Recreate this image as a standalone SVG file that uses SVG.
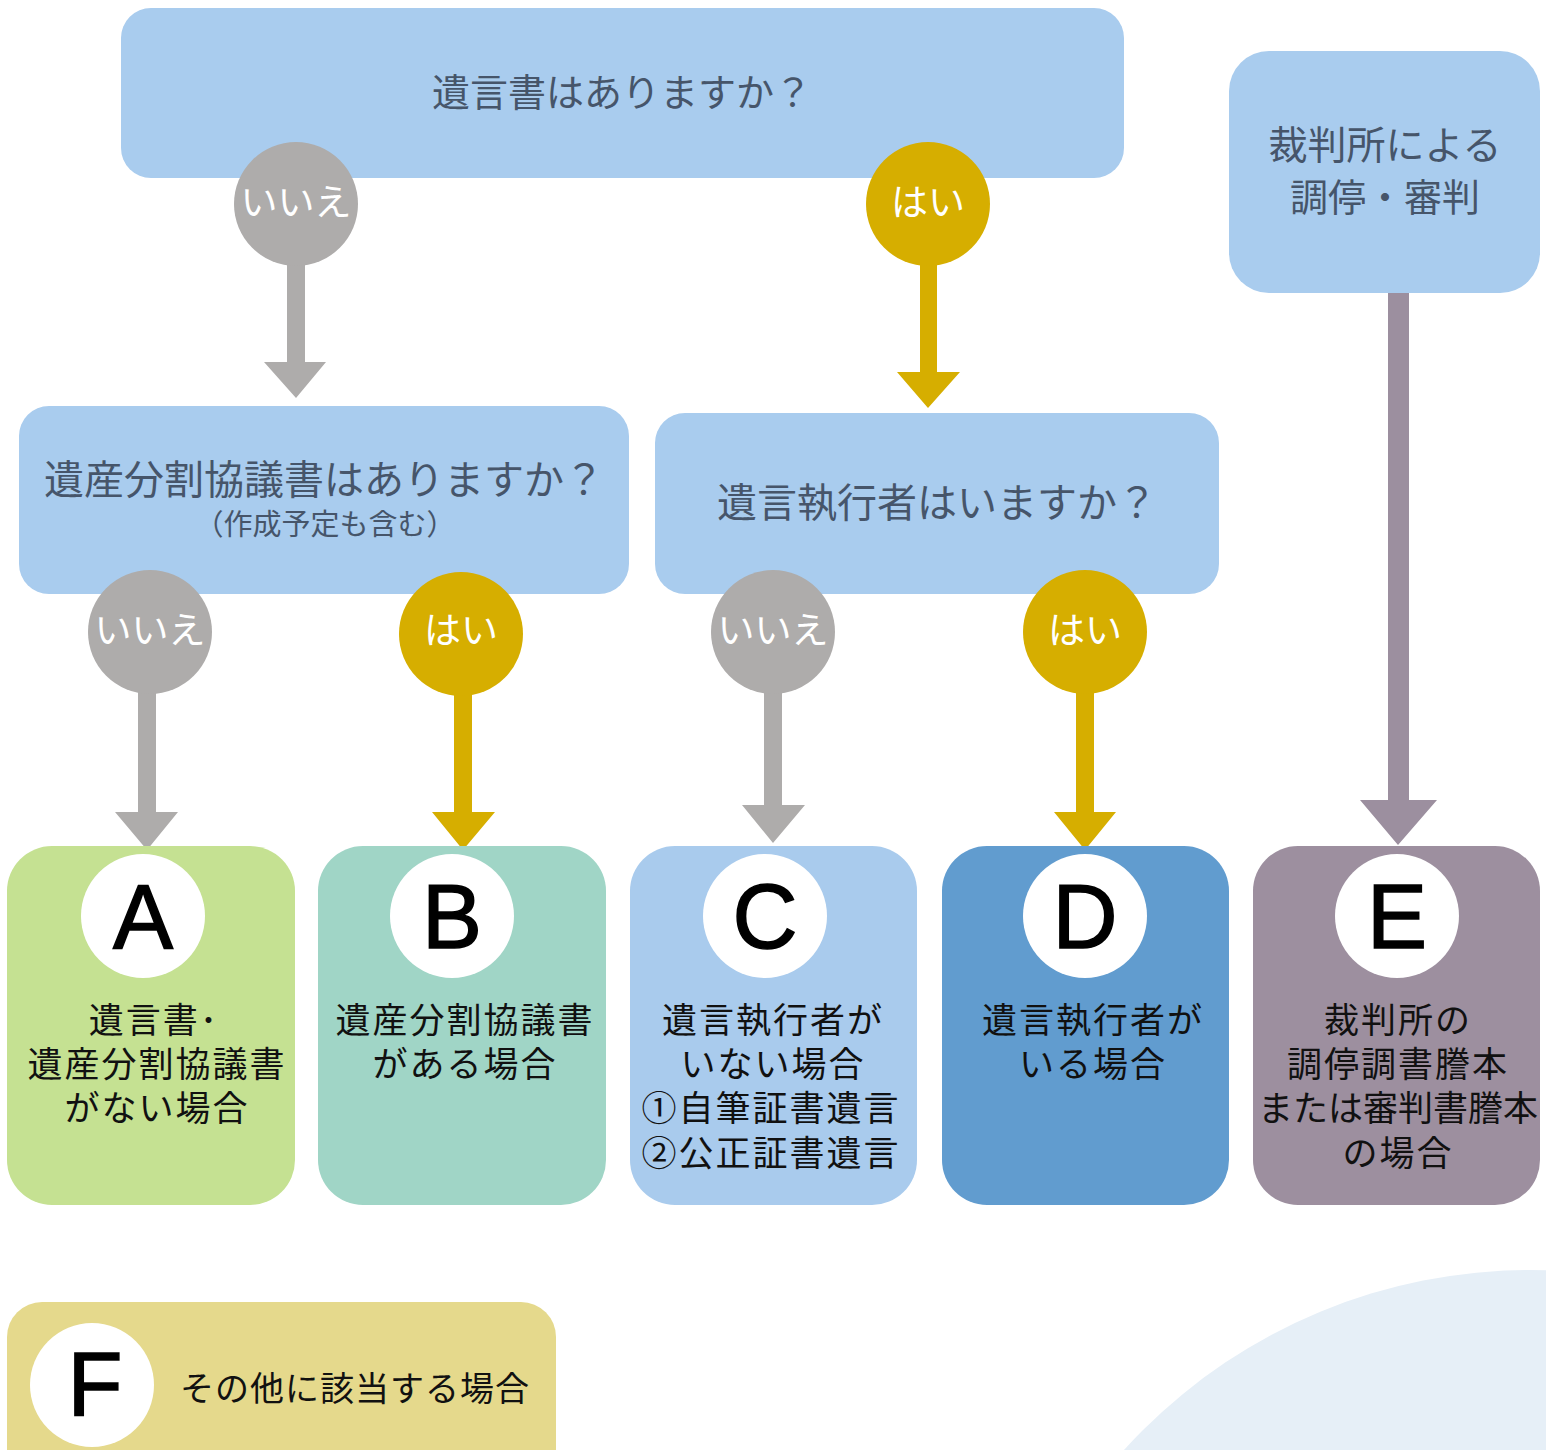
<svg xmlns="http://www.w3.org/2000/svg" width="1546" height="1450" viewBox="0 0 1546 1450">
<defs>
<style>
.q{fill:#A9CCEE}
.qt{font-family:"Liberation Sans","Noto Sans CJK JP",sans-serif;fill:#46556A;text-anchor:middle;font-size:38px}
.no{fill:#AEACAB}
.yes{fill:#D6AE00}
.lbl{font-family:"Liberation Sans","Noto Sans CJK JP",sans-serif;fill:#FFFFFF;text-anchor:middle;font-size:37px}
.bt{font-family:"Liberation Sans","Noto Sans CJK JP",sans-serif;fill:#111111;text-anchor:middle;font-size:35px;letter-spacing:2px}
.wc{fill:#FFFFFF}
.let{font-family:"Liberation Sans","DejaVu Sans",sans-serif;fill:#000000;stroke:#000000;stroke-width:1.5px;text-anchor:middle;font-size:90px}
</style>
</defs>
<rect width="1546" height="1450" fill="#FFFFFF"/>
<circle cx="1530" cy="1818" r="548" fill="#E6EFF7"/>

<g id="connectors">
<polygon class="no" points="287,260 305,260 305,362 326,362 296,398 264,362 287,362"/>
<polygon class="yes" points="920,260 937,260 937,372 960,372 928,408 897,372 920,372"/>
<polygon fill="#9C8F9F" points="1388,290 1409,290 1409,800 1437,800 1398,845 1360,800 1388,800"/>
<polygon class="no" points="138,690 156,690 156,812 178,812 147,850 115,812 138,812"/>
<polygon class="yes" points="454,690 472,690 472,812 495,812 463,850 432,812 454,812"/>
<polygon class="no" points="764,690 782,690 782,805 805,805 773,843 742,805 764,805"/>
<polygon class="yes" points="1076,690 1094,690 1094,812 1116,812 1085,850 1054,812 1076,812"/>
</g>

<g id="q1">
<rect class="q" x="121" y="8" width="1003" height="170" rx="30"/>
<text class="qt" x="622" y="106">遺言書はありますか？</text>
</g>
<g id="q1-no">
<circle class="no" cx="296" cy="204" r="62"/>
<text class="lbl" x="296" y="216">いいえ</text>
</g>
<g id="q1-yes">
<circle class="yes" cx="928" cy="204" r="62"/>
<text class="lbl" x="928" y="216">はい</text>
</g>

<g id="q2">
<rect class="q" x="19" y="406" width="610" height="188" rx="30"/>
<text class="qt" style="font-size:40px"><tspan x="324" y="494">遺産分割協議書はありますか？</tspan><tspan x="325" y="535" style="font-size:29px">（作成予定も含む）</tspan></text>
</g>
<g id="q2-no">
<circle class="no" cx="150" cy="632" r="62"/>
<text class="lbl" x="150" y="644">いいえ</text>
</g>
<g id="q2-yes">
<circle class="yes" cx="461" cy="634" r="62"/>
<text class="lbl" x="461" y="644">はい</text>
</g>

<g id="q3">
<rect class="q" x="655" y="413" width="564" height="181" rx="30"/>
<text class="qt" x="937" y="517" style="font-size:40px">遺言執行者はいますか？</text>
</g>
<g id="q3-no">
<circle class="no" cx="773" cy="632" r="62"/>
<text class="lbl" x="773" y="644">いいえ</text>
</g>
<g id="q3-yes">
<circle class="yes" cx="1085" cy="632" r="62"/>
<text class="lbl" x="1085" y="644">はい</text>
</g>

<g id="court">
<rect class="q" x="1229" y="51" width="311" height="242" rx="40"/>
<text class="qt"><tspan x="1385" y="159" style="font-size:39px">裁判所による</tspan><tspan x="1385" y="211">調停・審判</tspan></text>
</g>

<g id="A">
<rect x="7" y="846" width="288" height="359" rx="45" fill="#C5E192"/>
<circle class="wc" cx="143" cy="916" r="62"/>
<text class="let" x="143" y="948">A</text>
<text class="bt"><tspan x="154" y="1033">遺言書･</tspan><tspan x="157" y="1077">遺産分割協議書</tspan><tspan x="157" y="1121">がない場合</tspan></text>
</g>
<g id="B">
<rect x="318" y="846" width="288" height="359" rx="45" fill="#A0D5C6"/>
<circle class="wc" cx="452" cy="916" r="62"/>
<text class="let" x="452" y="948">B</text>
<text class="bt"><tspan x="465" y="1033">遺産分割協議書</tspan><tspan x="465" y="1077">がある場合</tspan></text>
</g>
<g id="C">
<rect x="630" y="846" width="287" height="359" rx="45" fill="#A9CBED"/>
<circle class="wc" cx="765" cy="916" r="62"/>
<text class="let" x="765" y="948">C</text>
<text class="bt"><tspan x="773" y="1033">遺言執行者が</tspan><tspan x="773" y="1077">いない場合</tspan><tspan x="771" y="1121">①自筆証書遺言</tspan><tspan x="771" y="1166">②公正証書遺言</tspan></text>
</g>
<g id="D">
<rect x="942" y="846" width="287" height="359" rx="45" fill="#619CCF"/>
<circle class="wc" cx="1085" cy="916" r="62"/>
<text class="let" x="1085" y="948">D</text>
<text class="bt"><tspan x="1093" y="1033">遺言執行者が</tspan><tspan x="1093" y="1077">いる場合</tspan></text>
</g>
<g id="E">
<rect x="1253" y="846" width="287" height="359" rx="45" fill="#9D8F9F"/>
<circle class="wc" cx="1397" cy="916" r="62"/>
<text class="let" x="1397" y="948">E</text>
<text class="bt"><tspan x="1398" y="1033">裁判所の</tspan><tspan x="1398" y="1077">調停調書謄本</tspan><tspan x="1398" y="1121" style="letter-spacing:0px">または審判書謄本</tspan><tspan x="1398" y="1166">の場合</tspan></text>
</g>

<g id="F">
<rect x="7" y="1302" width="549" height="200" rx="35" fill="#E5D98C"/>
<circle class="wc" cx="92" cy="1385" r="62"/>
<text class="let" x="95" y="1415">F</text>
<text class="bt" x="180" y="1401" style="text-anchor:start;font-size:34px;letter-spacing:1px">その他に該当する場合</text>
</g>
</svg>
